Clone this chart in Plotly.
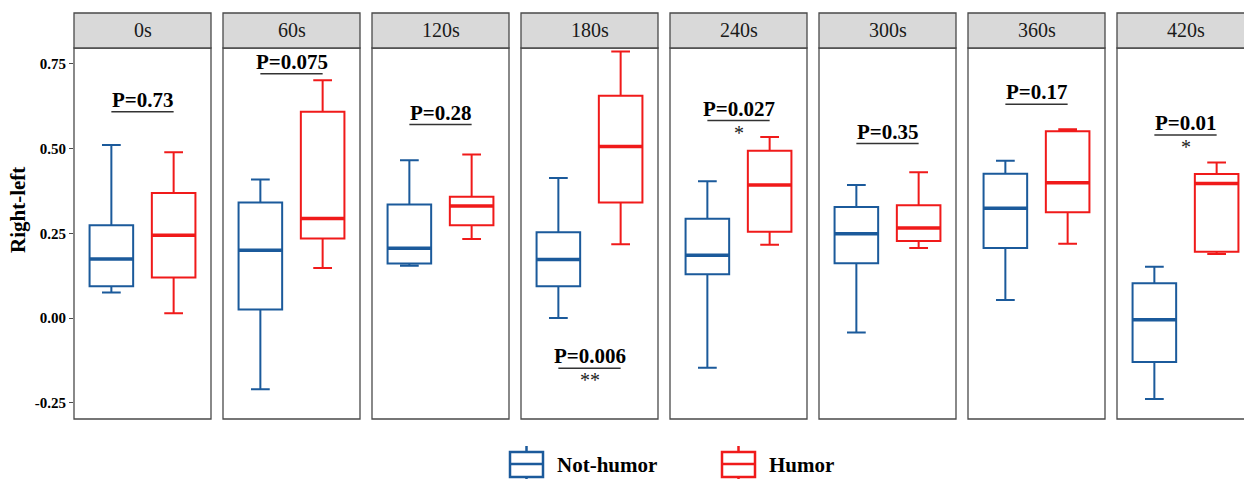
import plotly.graph_objects as go

# ---- data -------------------------------------------------------------
times = ["0s", "60s", "120s", "180s", "240s", "300s", "360s", "420s"]
groups = ["Not-humor", "Humor"]

# five-number summaries per time point (Right-left)
nh_low = [0.075, -0.210, 0.154, 0.000, -0.147, -0.043, 0.053, -0.239]
nh_q1 = [0.094, 0.025, 0.161, 0.094, 0.129, 0.162, 0.207, -0.130]
nh_med = [0.174, 0.200, 0.206, 0.173, 0.185, 0.249, 0.324, -0.005]
nh_q3 = [0.274, 0.341, 0.335, 0.253, 0.293, 0.328, 0.426, 0.103]
nh_high = [0.511, 0.409, 0.466, 0.413, 0.404, 0.393, 0.464, 0.151]

hu_low = [0.014, 0.148, 0.233, 0.218, 0.216, 0.207, 0.219, 0.189]
hu_q1 = [0.120, 0.235, 0.274, 0.341, 0.255, 0.227, 0.312, 0.196]
hu_med = [0.244, 0.294, 0.331, 0.506, 0.393, 0.266, 0.399, 0.397]
hu_q3 = [0.369, 0.609, 0.358, 0.656, 0.494, 0.333, 0.551, 0.425]
hu_high = [0.489, 0.702, 0.483, 0.787, 0.534, 0.430, 0.557, 0.459]

p_labels = ["P=0.73", "P=0.075", "P=0.28", "P=0.006", "P=0.027", "P=0.35", "P=0.17", "P=0.01"]
sig_marks = ["", "", "", "**", "*", "", "", "*"]
bracket_y = [0.609, 0.721, 0.571, -0.148, 0.583, 0.515, 0.631, 0.540]

y_ticks = [-0.25, 0.0, 0.25, 0.5, 0.75]
y_ticktext = ["-0.25", "0.00", "0.25", "0.50", "0.75"]

# ---- styling ----------------------------------------------------------
BLUE = "#1B5A9B"
RED = "#F01A1A"
FRAME = "#4a4a4a"
SERIF = "Liberation Serif"
COLORS = [BLUE, RED]

W, H = 1244, 479
ML, MT, MB = 74, 48, 60
plot_w = W - ML
plot_h = H - MT - MB
panel_px, step_px = 137, 149
x_lo, x_hi = 0.4, 2.6
px_per_unit = panel_px / (x_hi - x_lo)
y_range = [-0.298, 0.797]


def px_x(px):
    return (px - ML) / plot_w


def px_y(py):
    return (H - MB - py) / plot_h


fig = go.Figure()
shapes, annotations = [], []

for i, t in enumerate(times):
    n = i + 1
    xa = "x" if n == 1 else f"x{n}"
    ya = "y" if n == 1 else f"y{n}"
    d0 = i * step_px / plot_w
    d1_full = (i * step_px + panel_px) / plot_w
    d1 = min(d1_full, 1.0)
    xr_hi = x_lo + (d1 - d0) * plot_w / px_per_unit

    key = "" if n == 1 else str(n)
    fig.layout["xaxis" + key] = dict(
        domain=[d0, d1], range=[x_lo, xr_hi], showticklabels=False, showgrid=False,
        zeroline=False, showline=False, ticks="", fixedrange=True, anchor=ya,
    )
    fig.layout["yaxis" + key] = dict(
        domain=[0, 1], range=y_range, showgrid=False, zeroline=False, showline=False,
        anchor=xa, fixedrange=True,
        showticklabels=(n == 1), ticks="outside" if n == 1 else "",
        ticklen=4, tickwidth=1.2, tickcolor=FRAME,
        tickvals=y_ticks, ticktext=[f"<b>{s}</b>" for s in y_ticktext],
        tickfont=dict(family=SERIF, size=15, color="black"),
    )

    series = [
        (groups[0], 1, BLUE, nh_low[i], nh_q1[i], nh_med[i], nh_q3[i], nh_high[i]),
        (groups[1], 2, RED, hu_low[i], hu_q1[i], hu_med[i], hu_q3[i], hu_high[i]),
    ]
    for name, xpos, col, lo, q1, med, q3, hi in series:
        fig.add_trace(go.Box(
            x=[xpos], lowerfence=[lo], q1=[q1], median=[med], q3=[q3], upperfence=[hi],
            name=name, legendgroup=name, showlegend=False,
            width=0.7, whiskerwidth=0.43, boxpoints=False,
            line=dict(color=col, width=2), fillcolor="rgba(255,255,255,0)",
            xaxis=xa, yaxis=ya,
        ))
        # heavier median bar
        fig.add_trace(go.Scatter(
            x=[xpos - 0.35, xpos + 0.35], y=[med, med], mode="lines",
            line=dict(color=col, width=3.5), showlegend=False, hoverinfo="skip",
            xaxis=xa, yaxis=ya,
        ))

    # panel frame and strip
    shapes.append(dict(type="rect", xref="paper", yref="paper", x0=d0, x1=d1_full,
                       y0=0, y1=1, line=dict(color=FRAME, width=1.3),
                       fillcolor="rgba(0,0,0,0)", layer="above"))
    shapes.append(dict(type="rect", xref="paper", yref="paper", x0=d0, x1=d1_full,
                       y0=1, y1=1 + 35 / plot_h, line=dict(color=FRAME, width=1.3),
                       fillcolor="#D9D9D9", layer="above"))
    annotations.append(dict(
        text=t, xref="paper", yref="paper", x=(d0 + d1_full) / 2, y=1 + 17.5 / plot_h,
        showarrow=False, xanchor="center", yanchor="middle",
        font=dict(family=SERIF, size=20, color="#1a1a1a"),
    ))

    # comparison bracket with p-value
    shapes.append(dict(type="line", xref=xa, yref=ya, x0=1, x1=2,
                       y0=bracket_y[i], y1=bracket_y[i],
                       line=dict(color="#333333", width=1.5)))
    annotations.append(dict(
        text=f"<b>{p_labels[i]}</b>", xref=xa, yref=ya, x=1.5, y=bracket_y[i],
        showarrow=False, xanchor="center", yanchor="bottom", yshift=-2,
        font=dict(family=SERIF, size=21, color="black"),
    ))
    if sig_marks[i]:
        annotations.append(dict(
            text=sig_marks[i], xref=xa, yref=ya, x=1.5, y=bracket_y[i],
            showarrow=False, xanchor="center", yanchor="top", yshift=1,
            font=dict(family=SERIF, size=20, color="#222222"),
        ))

# legend: box glyph + label for each group
legend_icon_left = [510, 722]
icon_w, box_top, box_bot, med_px = 33, 452, 477, 464
for g, col, left in zip(groups, COLORS, legend_icon_left):
    cx = left + icon_w / 2
    shapes.append(dict(type="rect", xref="paper", yref="paper",
                       x0=px_x(left), x1=px_x(left + icon_w),
                       y0=px_y(box_bot), y1=px_y(box_top),
                       line=dict(color=col, width=2.5), fillcolor="white"))
    shapes.append(dict(type="line", xref="paper", yref="paper",
                       x0=px_x(left), x1=px_x(left + icon_w),
                       y0=px_y(med_px), y1=px_y(med_px),
                       line=dict(color=col, width=2.5)))
    shapes.append(dict(type="line", xref="paper", yref="paper",
                       x0=px_x(cx), x1=px_x(cx), y0=px_y(box_top), y1=px_y(446),
                       line=dict(color=col, width=2.5)))
    shapes.append(dict(type="line", xref="paper", yref="paper",
                       x0=px_x(cx), x1=px_x(cx), y0=px_y(box_bot), y1=px_y(484),
                       line=dict(color=col, width=2.5)))
    annotations.append(dict(
        text=f"<b>{g}</b>", xref="paper", yref="paper",
        x=px_x(left + icon_w + 12), y=px_y(465),
        showarrow=False, xanchor="left", yanchor="middle",
        font=dict(family=SERIF, size=21, color="black"),
    ))

# y-axis title
annotations.append(dict(
    text="<b>Right-left</b>", xref="paper", yref="paper",
    x=px_x(18), y=px_y(210), textangle=-90,
    showarrow=False, xanchor="center", yanchor="middle",
    font=dict(family=SERIF, size=21, color="black"),
))

fig.update_layout(
    width=W, height=H, autosize=False,
    margin=dict(l=ML, r=0, t=MT, b=MB, autoexpand=False),
    paper_bgcolor="white", plot_bgcolor="white",
    shapes=shapes, annotations=annotations,
    showlegend=False,
)

fig.write_html("out.html")
